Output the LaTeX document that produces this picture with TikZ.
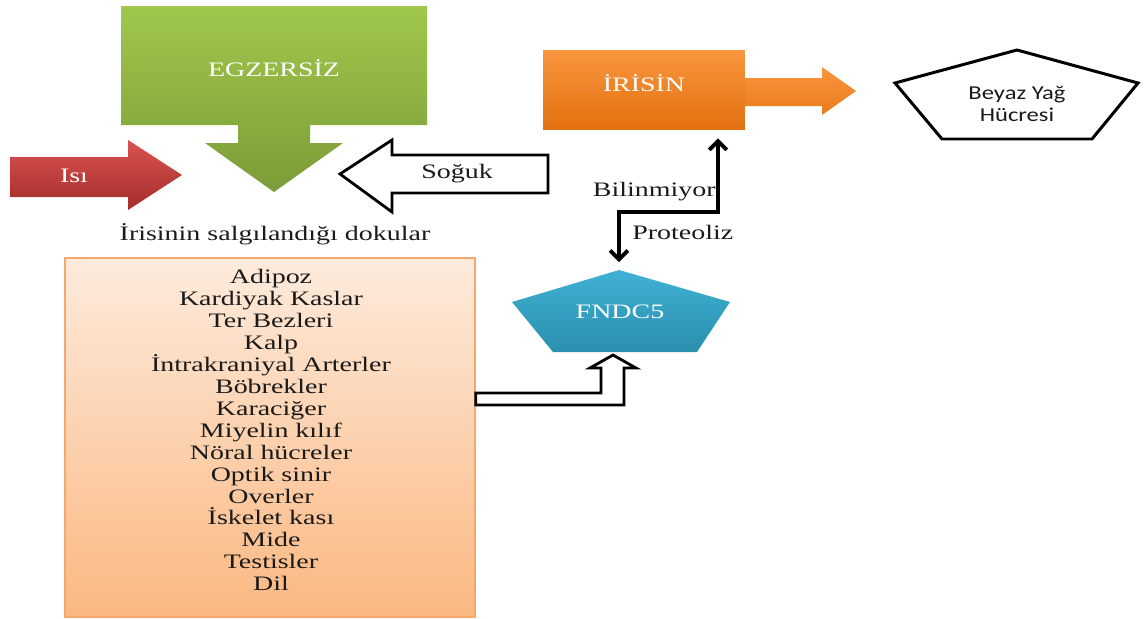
\documentclass[tikz,border=0pt]{standalone}
\usepackage{fontspec}
\setmainfont{Liberation Serif}[FakeStretch=1.36]
\newfontfamily\calfont{Carlito}[FakeStretch=1.25]
\usetikzlibrary{arrows.meta,positioning,calc}
\definecolor{egzA}{HTML}{A0C74C}
\definecolor{egzB}{HTML}{7B9C38}
\definecolor{isiA}{HTML}{D9534F}
\definecolor{isiB}{HTML}{A32D2B}
\definecolor{irisA}{HTML}{F9963E}
\definecolor{irisB}{HTML}{E2700F}
\definecolor{fndA}{HTML}{3FB1D4}
\definecolor{fndB}{HTML}{2A8FAE}
\definecolor{peachA}{HTML}{FDEBDD}
\definecolor{peachB}{HTML}{FBB881}
\definecolor{peachD}{HTML}{F4A86C}
\definecolor{vink}{HTML}{1A1A1A}
\tikzset{
  lbl/.style={font=\fontsize{11.7}{12.5}\selectfont,text=vink,inner sep=0pt,align=center},
  wlbl/.style={lbl,text=white},
  hollow/.style={draw=black,line width=1.6pt,fill=white,line join=miter},
  kontur/.style={draw=black,line width=1.7pt,fill=white,line join=miter},
  dbl/.style={{Straight Barb[length=5pt,width=10pt]}-{Straight Barb[length=5pt,width=10pt]},line width=2.2pt,draw=black},
  irisbox/.style={minimum width=4.04cm,minimum height=1.6cm,top color=irisA,bottom color=irisB},
  dokubox/.style={draw=peachD,line width=0.8pt,top color=peachA,bottom color=peachB,minimum width=8.2cm,minimum height=7.18cm},
}
\begin{document}
\begin{tikzpicture}[x=0.02cm,y=-0.02cm]
  \useasboundingbox (0,0) rectangle (1147,619);
  % egzersiz: yukaridan asagi blok ok
  \path[top color=egzA,bottom color=egzB] (121,6) -- (427,6) -- (427,125) -- (310,125) -- (310,143) -- (343,143)
    -- (274,192) -- (205,143) -- (238,143) -- (238,125) -- (121,125) -- cycle;
  \node[wlbl] (egz) at (274,68) {EGZERSİZ};
  % isi ve soguk
  \path[top color=isiA,bottom color=isiB] (10,157) -- (128,157) -- (128,140) -- (182,175) -- (128,210) -- (128,197) -- (10,197) -- cycle;
  \node[wlbl] (isi) at (74,176) {Isı};
  \path[hollow] (548,155) -- (392,155) -- (392,140) -- (340,174) -- (392,212) -- (392,193) -- (548,193) -- cycle;
  \node[lbl] (soguk) at (457,174) {Soğuk};
  % dokular
  \node[lbl] (baslik) at (275,234) {İrisinin salgılandığı dokular};
  \node[dokubox] (doku) at (270,437.5) {};
  \node[lbl] (liste) at (271,430) {Adipoz\\Kardiyak Kaslar\\Ter Bezleri\\Kalp\\İntrakraniyal Arterler\\Böbrekler\\Karaciğer\\Miyelin kılıf\\Nöral hücreler\\Optik sinir\\Overler\\İskelet kası\\Mide\\Testisler\\Dil};
  % irisin ve hedef hucre
  \node[irisbox] (iris) at (644,90) {};
  \node[wlbl] (iristxt) at (644,83) {İRİSİN};
  \path[top color=irisA,bottom color=irisB!70!irisA] (iris.east |- 0,78) -- (822,78) -- (822,67) -- (856,91) -- (822,115) -- (822,106) -- (iris.east |- 0,106) -- cycle;
  \path[kontur] (1017,50) -- (1138,83) -- (1092,139) -- (942,139) -- (895,83) -- cycle;
  \node[lbl,font=\calfont\fontsize{11.2}{13}\selectfont] (beyaz) at (1017,104) {Beyaz Yağ\\Hücresi};
  % fndc5
  \coordinate (fntop) at (619,270);
  \coordinate (fnbot) at (613,352);
  \path[top color=fndA,bottom color=fndB] (fntop) -- (730,302) -- (697,352) -- (553,352) -- (512,302) -- cycle;
  \node[wlbl] (fndc) at (620,312) {FNDC5};
  \coordinate (kink) at (718,212);
  \draw[dbl,shorten <=0.16cm,shorten >=0.16cm] (fntop) |- (kink) -- (kink |- iris.south);
  \node[lbl,anchor=east] (bil) at (716,192) {Bilinmiyor};
  \node[lbl,anchor=west] (prot) at (632,232) {Proteoliz};
  % dokulardan fndc5'e bos ok
  \path[hollow] (doku.east |- 0,393) -- (601,393) -- (601,368) -- (590,368) -- (fnbot |- 0,355) -- (636,368) -- (624,368)
    -- (624,405) -- (doku.east |- 0,405) -- cycle;
\end{tikzpicture}
\end{document}
